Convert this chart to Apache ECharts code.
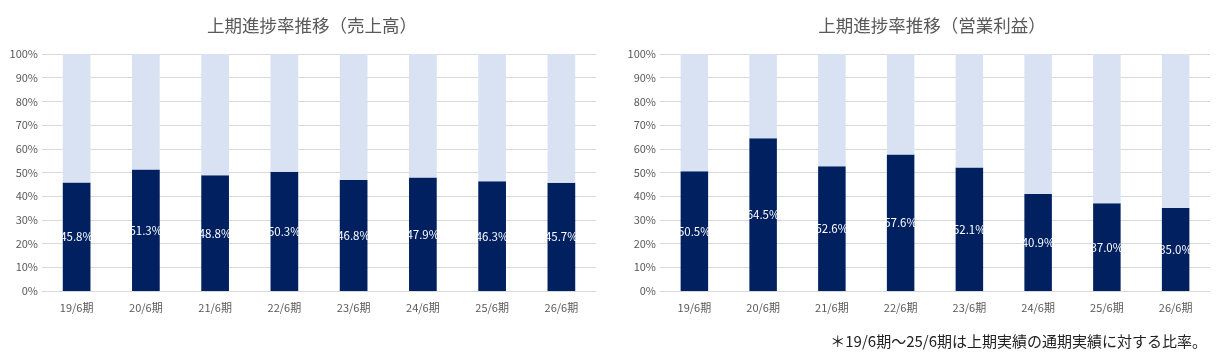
<!DOCTYPE html>
<html><head><meta charset="utf-8">
<script src="https://cdn.jsdelivr.net/npm/echarts@6/dist/echarts.min.js"></script>
<style>html,body{margin:0;padding:0;background:#fff}#c{width:1224px;height:361px}</style>
</head><body><div id="c"></div>
<script>
const categories = ['19/6期','20/6期','21/6期','22/6期','23/6期','24/6期','25/6期','26/6期'];
const salesProgress = [45.8,51.3,48.8,50.3,46.8,47.9,46.3,45.7];
const profitProgress = [50.5,64.5,52.6,57.6,52.1,40.9,37.0,35.0];
const yTicks = [0,10,20,30,40,50,60,70,80,90,100];
const titles = ['上期進捗率推移（売上高）','上期進捗率推移（営業利益）'];
const footnote = '＊19/6期～25/6期は上期実績の通期実績に対する比率。';

const FONT = '"Noto Sans CJK JP", "Noto Sans", sans-serif';
const DARK = '#002060', LIGHT = '#D9E2F3', GRID = '#D9D9D9', TXT = '#595959';

function xAxis(i){return {type:'category',gridIndex:i,data:categories,
  axisLine:{lineStyle:{color:GRID}},axisTick:{show:false},
  axisLabel:{color:TXT,fontSize:11,fontFamily:FONT,margin:11}};}
function yAxis(i){return {type:'value',gridIndex:i,min:0,max:100,interval:10,
  axisLine:{show:false},axisTick:{show:false},
  splitLine:{lineStyle:{color:GRID}},
  axisLabel:{color:TXT,fontSize:11,fontFamily:FONT,formatter:v=>v+'%',margin:4}};}
function pair(i,vals){return [
  {type:'bar',xAxisIndex:i,yAxisIndex:i,stack:'s'+i,data:vals,barWidth:'40%',
   itemStyle:{color:DARK},
   label:{show:true,position:'inside',color:'#fff',fontSize:11.5,fontFamily:FONT,
     formatter:p=>p.value.toFixed(1)+'%'}},
  {type:'bar',xAxisIndex:i,yAxisIndex:i,stack:'s'+i,data:vals.map(v=>+(100-v).toFixed(1)),barWidth:'40%',
   itemStyle:{color:LIGHT},silent:true}
];}

const chart = echarts.init(document.getElementById('c'),null,{renderer:'canvas'});
chart.setOption({
  animation:false,
  title:[
    {text:titles[0],left:307,top:12,textAlign:'center',textStyle:{fontSize:17.5,fontWeight:'normal',color:TXT,fontFamily:FONT}},
    {text:titles[1],left:927,top:12,textAlign:'center',textStyle:{fontSize:17.5,fontWeight:'normal',color:TXT,fontFamily:FONT}},
    {text:footnote,right:12,top:329,textStyle:{fontSize:15,fontWeight:'normal',color:'#222',fontFamily:FONT}}
  ],
  grid:[
    {left:42,right:628,top:54,height:237},
    {left:660,right:14,top:54,height:237}
  ],
  xAxis:[xAxis(0),xAxis(1)],
  yAxis:[yAxis(0),yAxis(1)],
  series:[...pair(0,salesProgress),...pair(1,profitProgress)]
});
</script></body></html>
